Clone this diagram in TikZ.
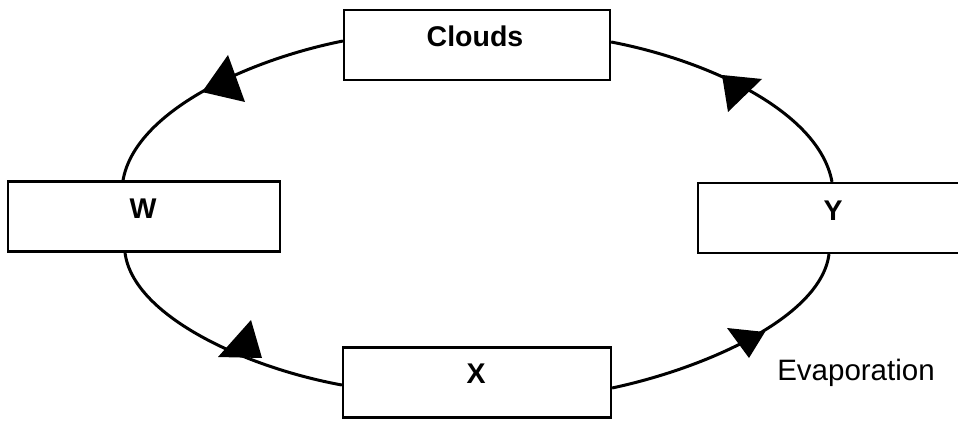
\documentclass[tikz,border=0pt]{standalone}
\usepackage{fontspec}
\setmainfont{Liberation Sans}
\begin{document}
\begin{tikzpicture}[x=1pt,y=1pt,
  box/.style={draw, rectangle, line width=2.2pt, minimum width=#1, minimum height=70pt, inner sep=0pt},
  lbl/.style={anchor=base, inner sep=0pt, font=\fontsize{28.5}{30}\selectfont\bfseries},
  plain/.style={anchor=base, inner sep=0pt, font=\fontsize{29.5}{31}\selectfont},
  link/.style={line width=3pt},
  head/.style={fill=black}]
\useasboundingbox (0,0) rectangle (958,421);
\clip (0,0) rectangle (958,421);
% boxes
\node[box=266pt] (clouds) at (477,376) {};
\node[box=272pt] (w) at (144,204.5) {};
\node[box=270pt] (y) at (833,203) {};
\node[box=268pt] (x) at (477,38.5) {};
% labels
\node[lbl] (cloudst) at (475,374) {Clouds};
\node[lbl] (wt) at (143,203) {W};
\node[lbl] (yt) at (833,201) {Y};
\node[lbl] (xt) at (476,38) {X};
\node[plain] (evap) at (856,41) {Evaporation};
% connectors
\draw[link] ([yshift=4pt]clouds.west) .. controls +(-95,-19) and +(12,69) .. ([xshift=-21pt]w.north);
\draw[link] ([yshift=3pt]clouds.east) .. controls +(95,-18) and +(-13,71) .. ([xshift=-1pt]y.north);
\draw[link] ([yshift=-2.5pt]x.west) .. controls +(-94,17) and +(8,-64) .. ([xshift=-19pt]w.south);
\draw[link] ([xshift=-4pt]y.south) .. controls +(-8,-63) and +(94,20) .. ([yshift=-5.5pt]x.east);
% arrowheads
\fill[head] (202,329) -- (228,366) -- (245,319) -- cycle;
\fill[head] (722,346) -- (762,342) -- (728,309) -- cycle;
\fill[head] (251,101) -- (218,64) -- (262,63) -- cycle;
\fill[head] (749,63) -- (727,93) -- (765,89) -- cycle;
\end{tikzpicture}
\end{document}
